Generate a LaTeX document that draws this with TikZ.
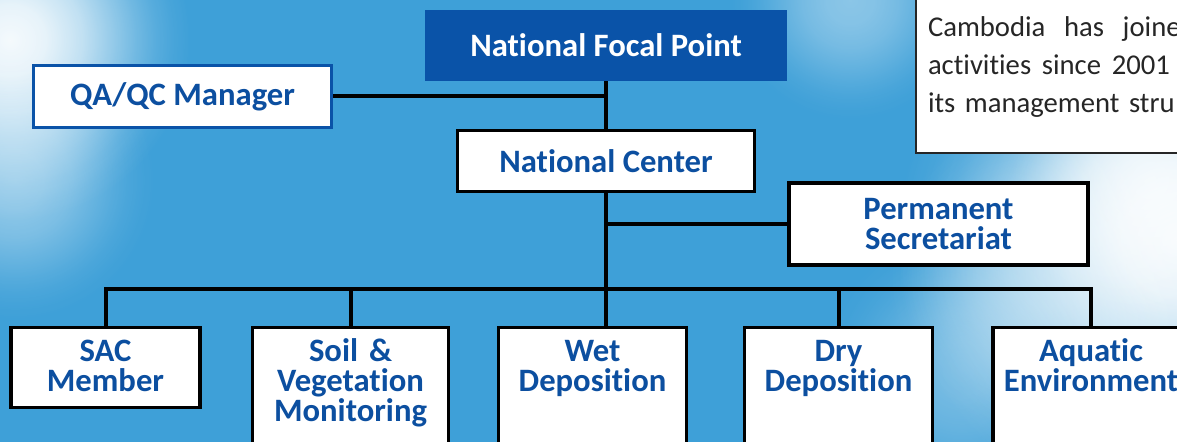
\documentclass[tikz,border=0pt]{standalone}
\usepackage{fontspec}
\setmainfont{Carlito}[Ligatures={NoCommon,NoContextual}]
\usetikzlibrary{positioning,fadings}

\definecolor{skyblue}{HTML}{3EA0D8}
\definecolor{focalblue}{HTML}{0A53A8}
\definecolor{orgblue}{HTML}{0C4FA0}
\definecolor{infogray}{HTML}{262626}
\newcommand{\orgfont}{\fontsize{24.5}{22.5}\selectfont\bfseries}
\newcommand{\infofont}{\fontsize{21.5}{28.5}\selectfont}

% soft round mask for the clouds
\pgfdeclareradialshading{cloudmask}{\pgfpoint{0bp}{0bp}}{color(0bp)=(white); color(4bp)=(white!92!black); color(8bp)=(white!72!black); color(11bp)=(white!50!black); color(14bp)=(white!28!black); color(16bp)=(white!15!black); color(18bp)=(white!6!black); color(20bp)=(black); color(50bp)=(black)}
\pgfdeclarefading{cloudfade}{\pgfuseshading{cloudmask}}

\begin{document}
\begin{tikzpicture}[x=0.75pt,y=-0.75pt,
unit/.style={rectangle, draw=black, line width=2.6pt, fill=white, text=orgblue, font=\orgfont, align=center, inner sep=3pt},
focal/.style={rectangle, fill=focalblue, text=white, font=\orgfont, minimum width=272pt, minimum height=53pt},
qabox/.style={unit, draw=focalblue, line width=2.2pt, minimum width=224pt, minimum height=46pt},
midbox/.style={unit, minimum width=223pt, minimum height=46pt},
lowbox/.style={unit, anchor=north, inner xsep=0pt, text width=#1, text height=22pt, text depth=120pt},
infobox/.style={rectangle, draw=infogray, line width=1.5pt, fill=white, text=infogray, font=\infofont, align=left, text width=300pt, inner xsep=9pt, inner ysep=0pt},
link/.style={draw=black, line width=3pt},
cloud/.style={fill=white, path fading=cloudfade, fill opacity=#1}
]
\useasboundingbox (0,0) rectangle (1177,442);
\clip (0,0) rectangle (1177,442);

% sky
\fill[skyblue] (0,0) rectangle (1177,442);
\path[cloud=0.95] (-215,-185) rectangle (235,265);
\path[cloud=0.45] (-160,5) rectangle (190,355);
\path[cloud=0.4] (700,-150) rectangle (1000,150);
\path[cloud=0.95] (827,-110) rectangle (1527,590);
\path[cloud=0.7] (975,5) rectangle (1325,355);
\path[cloud=0.35] (845,75) rectangle (1245,475);
\path[cloud=0.3] (787,195) rectangle (1137,545);

% nodes
\node[focal] (nfp) at (606,45.5) {National Focal Point};
\node[qabox] (qa) at (182.5,96.5) {QA/QC Manager};
\node[midbox] (nc) at (606,161) {National Center};
\node[unit, minimum width=224pt, minimum height=61.5pt] (ps) at (938.5,224) {Permanent\\Secretariat};

\coordinate (bus) at (606,289);
\node[lowbox=142pt, text depth=32pt] (sac) at (105.5,326) {SAC\\Member};
\node[lowbox=147pt] (soil) at (350.5,326) {Soil \&\\Vegetation\\Monitoring};
\node[lowbox=141pt] (wet) at (592.5,326) {Wet\\Deposition};
\node[lowbox=141pt] (dry) at (838.5,326) {Dry\\Deposition};
\node[lowbox=147pt] (aqua) at (1091,326) {Aquatic\\Environment};

\node[infobox, anchor=base west, text height=40pt, text depth=87pt] (info) at (915,37)
{Cambodia\hspace{14pt}has\hspace{14pt}joine\\
activities\hspace{8pt}since\hspace{8pt}2001\\
its management stru};

% links
\draw[link] (nfp.south) -- (nc.north);
\draw[link] (qa.east) -- (qa.east -| nfp.south);
\draw[link] (ps.west) -- (ps.west -| nc.south);
\draw[link] (nc.south) -- (nc.south |- wet.north);
\draw[link] (sac.north) |- (bus) -| (aqua.north);
\draw[link] (soil.north) -- (soil.north |- bus);
\draw[link] (dry.north) -- (dry.north |- bus);
\end{tikzpicture}
\end{document}
